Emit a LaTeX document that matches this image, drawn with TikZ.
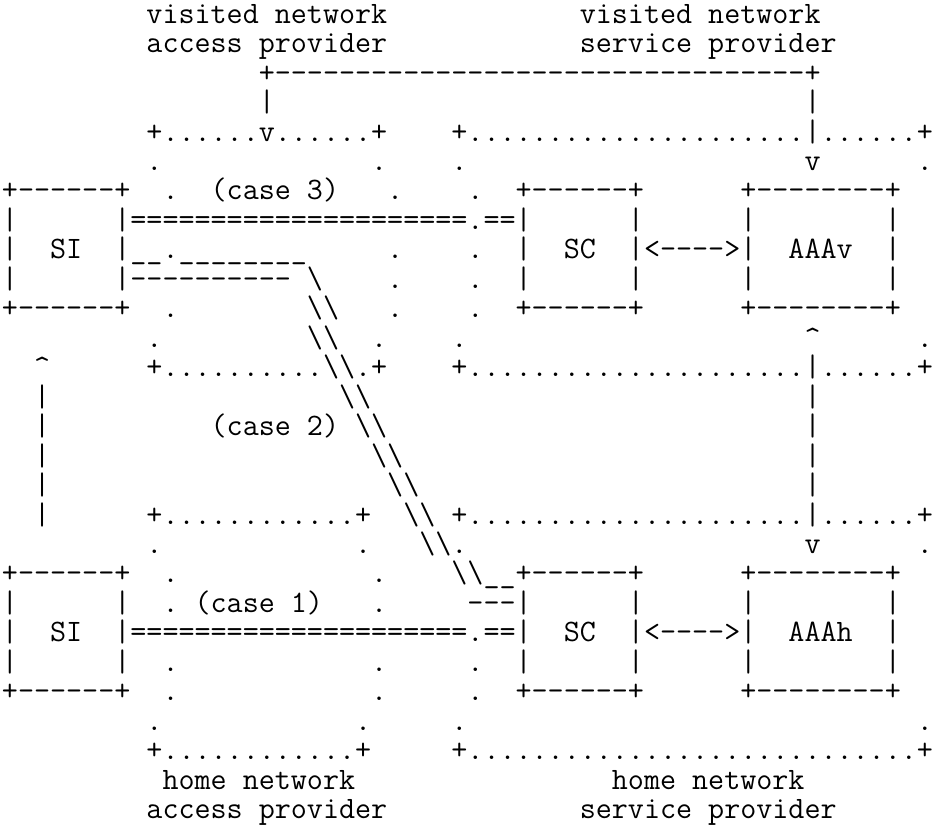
\documentclass[tikz,border=0pt]{standalone}
\newlength\cwtest
\newcommand\hyph[1]{\ifnum#1>0 -\kern0pt\expandafter\hyph\expandafter{\the\numexpr#1-1\relax}\fi}
\newcommand\B{\textbackslash}
\newcommand\U{\_}
\newcommand\C{\textasciicircum}
\newcommand\pc[3]{\node[art] (p#1-#2) at ({1+#2*8.025},{-(#1*14.73+11.6)}) {#3};}
\begin{document}
\settowidth\cwtest{\ttfamily\fontsize{15.5pt}{15pt}\selectfont x}%
\pgfmathsetmacro\artsize{15.5*8.025/\cwtest}%
\begin{tikzpicture}[x=1pt,y=1pt]
\tikzset{art/.style={font=\ttfamily\fontsize{\artsize pt}{15pt}\selectfont, inner sep=0pt, outer sep=0pt, anchor=base west}}
\useasboundingbox[fill=white] (0,0) rectangle (468.5,-412.5);
% row 0-1
\pc{0}{9}{visited~network}\pc{0}{36}{visited~network}
\pc{1}{9}{access~provider}\pc{1}{36}{service~provider}
% row 2-5
\pc{2}{16}{+\hyph{33}+}
\pc{3}{16}{|}\pc{3}{50}{|}
\pc{4}{9}{+......v......+}\pc{4}{28}{+.....................|......+}
\pc{5}{9}{.}\pc{5}{23}{.}\pc{5}{28}{.}\pc{5}{50}{v}\pc{5}{57}{.}
% row 6-10
\pc{6}{0}{+\hyph{6}+}\pc{6}{10}{.}\pc{6}{13}{(case~3)}\pc{6}{24}{.}\pc{6}{29}{.}\pc{6}{32}{+\hyph{6}+}\pc{6}{46}{+\hyph{8}+}
\pc{7}{0}{|}\pc{7}{7}{|=====================.==|}\pc{7}{39}{|}\pc{7}{46}{|}\pc{7}{55}{|}
\pc{8}{0}{|}\pc{8}{3}{SI}\pc{8}{7}{|\U\U.\U\U\U\U\U\U\U\U}\pc{8}{24}{.}\pc{8}{29}{.}\pc{8}{32}{|}\pc{8}{35}{SC}\pc{8}{39}{|<\hyph{4}>|}\pc{8}{49}{AAAv}\pc{8}{55}{|}
\pc{9}{0}{|}\pc{9}{7}{|\hyph{10}}\pc{9}{19}{\B}\pc{9}{24}{.}\pc{9}{29}{.}\pc{9}{32}{|}\pc{9}{39}{|}\pc{9}{46}{|}\pc{9}{55}{|}
\pc{10}{0}{+\hyph{6}+}\pc{10}{10}{.}\pc{10}{19}{\B\B}\pc{10}{24}{.}\pc{10}{29}{.}\pc{10}{32}{+\hyph{6}+}\pc{10}{46}{+\hyph{8}+}
% row 11-18
\pc{11}{9}{.}\pc{11}{19}{\B\B}\pc{11}{23}{.}\pc{11}{28}{.}\pc{11}{50}{\C}\pc{11}{57}{.}
\pc{12}{2}{\C}\pc{12}{9}{+..........\B\B.+}\pc{12}{28}{+.....................|......+}
\pc{13}{2}{|}\pc{13}{21}{\B\B}\pc{13}{50}{|}
\pc{14}{2}{|}\pc{14}{13}{(case~2)}\pc{14}{22}{\B\B}\pc{14}{50}{|}
\pc{15}{2}{|}\pc{15}{23}{\B\B}\pc{15}{50}{|}
\pc{16}{2}{|}\pc{16}{24}{\B\B}\pc{16}{50}{|}
\pc{17}{2}{|}\pc{17}{9}{+............+}\pc{17}{25}{\B\B}\pc{17}{28}{+.....................|......+}
\pc{18}{9}{.}\pc{18}{22}{.}\pc{18}{26}{\B\B.}\pc{18}{50}{v}\pc{18}{57}{.}
% row 19-23
\pc{19}{0}{+\hyph{6}+}\pc{19}{10}{.}\pc{19}{23}{.}\pc{19}{28}{\B\B\U\U+\hyph{6}+}\pc{19}{46}{+\hyph{8}+}
\pc{20}{0}{|}\pc{20}{7}{|}\pc{20}{10}{.}\pc{20}{12}{(case~1)}\pc{20}{23}{.}\pc{20}{29}{\hyph{3}|}\pc{20}{39}{|}\pc{20}{46}{|}\pc{20}{55}{|}
\pc{21}{0}{|}\pc{21}{3}{SI}\pc{21}{7}{|=====================.==|}\pc{21}{35}{SC}\pc{21}{39}{|<\hyph{4}>|}\pc{21}{49}{AAAh}\pc{21}{55}{|}
\pc{22}{0}{|}\pc{22}{7}{|}\pc{22}{10}{.}\pc{22}{23}{.}\pc{22}{29}{.}\pc{22}{32}{|}\pc{22}{39}{|}\pc{22}{46}{|}\pc{22}{55}{|}
\pc{23}{0}{+\hyph{6}+}\pc{23}{10}{.}\pc{23}{23}{.}\pc{23}{29}{.}\pc{23}{32}{+\hyph{6}+}\pc{23}{46}{+\hyph{8}+}
% row 24-27
\pc{24}{9}{.}\pc{24}{22}{.}\pc{24}{28}{.}\pc{24}{57}{.}
\pc{25}{9}{+............+}\pc{25}{28}{+............................+}
\pc{26}{10}{home~network}\pc{26}{38}{home~network}
\pc{27}{9}{access~provider}\pc{27}{36}{service~provider}
\end{tikzpicture}
\end{document}
